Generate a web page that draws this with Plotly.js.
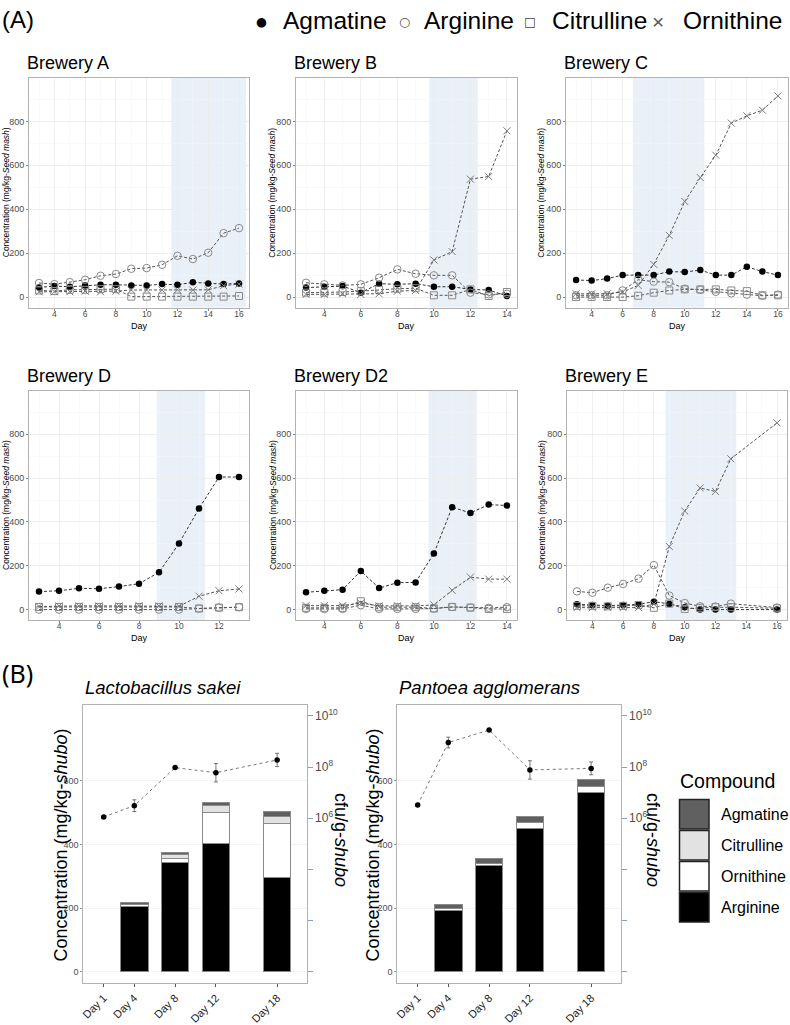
<!DOCTYPE html>
<html><head><meta charset="utf-8">
<script src="https://cdn.plot.ly/plotly-3.0.1.min.js"></script>
<style>html,body{margin:0;padding:0;background:#fff}#chart{width:790px;height:1025px}</style>
</head><body><div id="chart"></div>
<script>
// ================= DATA =================
// (A) Amino-acid concentrations (mg/kg seed mash) by brewery and day
const breweries = ['Brewery A', 'Brewery B', 'Brewery C', 'Brewery D', 'Brewery D2', 'Brewery E'];
const compounds = ['Agmatine', 'Arginine', 'Citrulline', 'Ornithine'];

const daysA = [3, 4, 5, 6, 7, 8, 9, 10, 11, 12, 13, 14, 15, 16];
const agmatineA = [44, 50, 47, 53, 56, 56, 53, 53, 59, 56, 67, 62, 59, 62];
const arginineA = [64, 59, 68, 79, 97, 105, 129, 132, 147, 188, 173, 202, 291, 314];
const citrullineA = [30, 27, 33, 33, 36, 36, 2, 2, 2, 2, 2, 2, 2, 5];
const ornithineA = [24, 24, 24, 27, 24, 27, 32, 32, 32, 33, 32, 33, 52, 59];

const daysB = [3, 4, 5, 6, 7, 8, 9, 10, 11, 12, 13, 14];
const agmatineB = [43, 47, 50, 20, 61, 58, 61, 47, 47, 35, 32, 5];
const arginineB = [65, 58, 53, 58, 88, 126, 106, 99, 99, 20, 12, 15];
const citrullineB = [20, 20, 23, 27, 33, 38, 40, 8, 8, 35, 5, 23];
const ornithineB = [12, 12, 15, 12, 15, 27, 30, 169, 207, 537, 549, 757];

const daysC = [3, 4, 5, 6, 7, 8, 9, 10, 11, 12, 13, 14, 15, 16];
const agmatineC = [78, 75, 84, 100, 100, 100, 116, 114, 123, 100, 100, 138, 116, 100];
const arginineC = [8, 8, 8, 30, 79, 70, 68, 38, 33, 24, 17, 11, 6, 11];
const citrullineC = [0, 0, 0, 0, 6, 20, 30, 35, 35, 35, 30, 27, 8, 8];
const ornithineC = [15, 15, 15, 23, 53, 149, 281, 435, 544, 646, 792, 825, 851, 916];

const daysD = [3, 4, 5, 6, 7, 8, 9, 10, 11, 12, 13];
const agmatineD = [82, 86, 97, 95, 105, 118, 170, 302, 461, 605, 605];
const arginineD = [0, 0, 0, 0, 0, 0, 0, 0, 5, 9, 11];
const citrullineD = [12, 12, 12, 12, 12, 12, 12, 12, 5, 9, 11];
const ornithineD = [14, 17, 17, 17, 17, 18, 17, 15, 61, 86, 94];

const daysD2 = [3, 4, 5, 6, 7, 8, 9, 10, 11, 12, 13, 14];
const agmatineD2 = [79, 86, 91, 176, 98, 123, 124, 256, 467, 441, 479, 475];
const arginineD2 = [3, 3, 3, 20, 3, 3, 3, 5, 12, 9, 8, 11];
const citrullineD2 = [8, 8, 8, 38, 11, 11, 11, 5, 12, 9, 3, 3];
const ornithineD2 = [18, 18, 18, 30, 17, 17, 17, 21, 88, 148, 139, 139];

const daysE = [3, 4, 5, 6, 7, 8, 9, 10, 11, 12, 13, 16];
const agmatineE = [24, 21, 18, 21, 24, 36, 26, 11, 0, 0, 0, 0];
const arginineE = [83, 77, 100, 117, 141, 203, 64, 30, 15, 14, 27, 9];
const citrullineE = [17, 17, 15, 17, 21, 8, 27, 3, 8, 11, 11, 6];
const ornithineE = [9, 9, 9, 9, 9, 25, 288, 450, 555, 539, 688, 852];

// shaded day periods per brewery
const shadeStart = [11.6, 9.75, 6.65, 8.9, 9.7, 8.75];
const shadeEnd = [16.45, 12.4, 11.26, 11.3, 12.35, 13.35];

// (B) shubo: compound concentrations (mg/kg shubo) and viable counts (log10 cfu/g shubo)
const barDays = [4, 8, 12, 18];
const cfuDays = [1, 4, 8, 12, 18];
const dayLabels = ['Day 1', 'Day 4', 'Day 8', 'Day 12', 'Day 18'];
const species = ['Lactobacillus sakei', 'Pantoea agglomerans'];

const sakeiArginine = [206, 342, 402, 295];
const sakeiOrnithine = [4, 15, 98, 171];
const sakeiCitrulline = [2, 11, 21, 23];
const sakeiAgmatine = [5, 8, 10, 13];
const sakeiLogCfu = [6.05, 6.49, 7.98, 7.78, 8.28];
const sakeiLogCfuSd = [0, 0.23, 0, 0.36, 0.26];

const pantoeaArginine = [193, 334, 450, 562];
const pantoeaOrnithine = [5, 6, 20, 21];
const pantoeaCitrulline = [0, 0, 0, 0];
const pantoeaAgmatine = [14, 16, 19, 21];
const pantoeaLogCfu = [6.52, 8.96, 9.45, 7.89, 7.95];
const pantoeaLogCfuSd = [0, 0.21, 0, 0.36, 0.25];

const cfuTickVals = [6, 8, 10];
const cfuTickText = ['10<sup>6</sup>', '10<sup>8</sup>', '10<sup>10</sup>'];

const stackOrder = ['Arginine', 'Ornithine', 'Citrulline', 'Agmatine'];
const legendOrder = ['Agmatine', 'Citrulline', 'Ornithine', 'Arginine'];
const legendGlyph = {Agmatine: '\u25CF', Arginine: '\u25CB', Citrulline: '\u25A1', Ornithine: '\u00D7'};

// ================= STYLE / LAYOUT HELPERS =================
const W = 790, H = 1025;
const fx = v => v / W;
const fy = v => 1 - v / H;
const FONT = 'Liberation Sans, Arial, sans-serif';

const lineData = [
  {days: daysA, Agmatine: agmatineA, Arginine: arginineA, Citrulline: citrullineA, Ornithine: ornithineA},
  {days: daysB, Agmatine: agmatineB, Arginine: arginineB, Citrulline: citrullineB, Ornithine: ornithineB},
  {days: daysC, Agmatine: agmatineC, Arginine: arginineC, Citrulline: citrullineC, Ornithine: ornithineC},
  {days: daysD, Agmatine: agmatineD, Arginine: arginineD, Citrulline: citrullineD, Ornithine: ornithineD},
  {days: daysD2, Agmatine: agmatineD2, Arginine: arginineD2, Citrulline: citrullineD2, Ornithine: ornithineD2},
  {days: daysE, Agmatine: agmatineE, Arginine: arginineE, Citrulline: citrullineE, Ornithine: ornithineE}
];

// panel boxes in pixels [left, right, top, bottom] and x ranges
const panelBox = [
  [29, 249, 78, 307.5], [296, 517, 78, 307.5], [566, 788, 78, 307.5],
  [29, 249, 391, 620], [296, 517, 391, 620], [567, 787, 391, 620]
];
const panelXRange = [[2.35, 16.65], [2.45, 14.55], [2.35, 16.65], [2.5, 13.5], [2.45, 14.55], [2.35, 16.65]];
const yTitleX = [5.5, 272, 541, 5.5, 272.5, 541.5];

const markerStyle = {
  Agmatine: {symbol: 'circle', size: 6.5, color: '#000000', line: {width: 0}},
  Arginine: {symbol: 'circle-open', size: 7.5, color: '#8a8a8a', line: {width: 1, color: '#8a8a8a'}},
  Citrulline: {symbol: 'square-open', size: 7, color: '#8a8a8a', line: {width: 1, color: '#8a8a8a'}},
  Ornithine: {symbol: 'x-thin-open', size: 7, color: '#7a7a7a', line: {width: 1, color: '#7a7a7a'}}
};
const lineColor = {Agmatine: '#333333', Arginine: '#555555', Citrulline: '#555555', Ornithine: '#555555'};
const compoundColor = {Agmatine: '#606060', Citrulline: '#e2e2e2', Ornithine: '#ffffff', Arginine: '#000000'};
const glyphColor = {Agmatine: '#000000', Arginine: '#444444', Citrulline: '#444444', Ornithine: '#555555'};

const traces = [];
const layout = {
  width: W, height: H,
  margin: {l: 0, r: 0, t: 0, b: 0},
  paper_bgcolor: '#ffffff', plot_bgcolor: '#ffffff',
  font: {family: FONT, color: '#000'},
  barmode: 'stack',
  showlegend: false,
  shapes: [], annotations: []
};

// ---- panel A line charts ----
lineData.forEach((d, i) => {
  const n = i + 1;
  const xa = 'x' + (n === 1 ? '' : n), ya = 'y' + (n === 1 ? '' : n);
  const xk = 'xaxis' + (n === 1 ? '' : n), yk = 'yaxis' + (n === 1 ? '' : n);
  const b = panelBox[i];
  compounds.forEach(c => {
    traces.push({
      type: 'scatter', mode: 'lines+markers', name: c, x: d.days, y: d[c],
      xaxis: xa, yaxis: ya, showlegend: false,
      line: {color: lineColor[c], width: 1, dash: '3px,2px'},
      marker: markerStyle[c], hoverinfo: 'x+y+name'
    });
  });
  layout[xk] = {
    domain: [fx(b[0]), fx(b[1])], anchor: ya, range: panelXRange[i],
    tick0: 0, dtick: 2, showgrid: true, gridcolor: '#ebebeb', gridwidth: 0.8,
    minor: {dtick: 1, tick0: 0, showgrid: true, gridcolor: '#f5f5f5', gridwidth: 0.5},
    ticks: 'outside', ticklen: 2, tickcolor: '#333', tickwidth: 0.6,
    tickfont: {size: 8.5, color: '#4d4d4d'}, ticklabelstandoff: -4,
    showline: true, linecolor: '#b3b3b3', linewidth: 1, mirror: true, zeroline: false
  };
  layout[yk] = {
    domain: [fy(b[3]), fy(b[2])], anchor: xa, range: [-47.5, 997.5],
    tickvals: [0, 200, 400, 600, 800], showgrid: true, gridcolor: '#ebebeb', gridwidth: 0.8,
    minor: {dtick: 100, tick0: 0, showgrid: true, gridcolor: '#f5f5f5', gridwidth: 0.5},
    ticks: 'outside', ticklen: 2, tickcolor: '#333', tickwidth: 0.6,
    tickfont: {size: 9, color: '#4d4d4d'},
    showline: true, linecolor: '#b3b3b3', linewidth: 1, mirror: true, zeroline: false
  };
  layout.shapes.push({
    type: 'rect', xref: xa, yref: ya + ' domain', x0: shadeStart[i], x1: shadeEnd[i], y0: 0, y1: 1,
    fillcolor: '#eaf0f8', line: {width: 0}, layer: 'below'
  });
  layout.annotations.push({
    xref: 'paper', yref: 'paper', x: fx(b[0] - 4.5), y: fy(b[2] - 15), xanchor: 'left', yanchor: 'middle',
    text: breweries[i], showarrow: false, font: {size: 18, color: '#000'}
  });
  layout.annotations.push({
    xref: 'paper', yref: 'paper', x: fx(yTitleX[i]), y: fy((b[2] + b[3]) / 2), xanchor: 'center', yanchor: 'middle',
    text: 'Concentration (mg/kg-<i>Seed mash</i>)', textangle: -90, showarrow: false,
    font: {size: 8.5, color: '#000'}
  });
  layout.annotations.push({
    xref: 'paper', yref: 'paper', x: fx((b[0] + b[1]) / 2), y: fy(b[3] + 18), xanchor: 'center', yanchor: 'middle',
    text: 'Day', showarrow: false, font: {size: 9, color: '#000'}
  });
});

// ---- shared legend for panel A (drawn as text) ----
const legSymX = [261, 405, 530, 658];
const legTextX = [281, 422, 550, 681];
compounds.forEach((c, k) => {
  layout.annotations.push({xref: 'paper', yref: 'paper', x: fx(legSymX[k]), y: fy(21), xanchor: 'center', yanchor: 'middle',
    text: legendGlyph[c], showarrow: false,
    font: {family: c === 'Ornithine' ? FONT : 'DejaVu Sans, sans-serif', size: c === 'Ornithine' ? 21 : 12.5, color: glyphColor[c]}});
  layout.annotations.push({xref: 'paper', yref: 'paper', x: fx(legTextX[k]), y: fy(20), xanchor: 'left', yanchor: 'middle',
    text: c, showarrow: false, font: {size: 24.5, color: '#000'}});
});

// ---- panel B bar + cfu charts ----
const barSets = [
  {Arginine: sakeiArginine, Ornithine: sakeiOrnithine, Citrulline: sakeiCitrulline, Agmatine: sakeiAgmatine,
   cfu: sakeiLogCfu, sd: sakeiLogCfuSd},
  {Arginine: pantoeaArginine, Ornithine: pantoeaOrnithine, Citrulline: pantoeaCitrulline, Agmatine: pantoeaAgmatine,
   cfu: pantoeaLogCfu, sd: pantoeaLogCfuSd}
];
const barBox = [[83.3, 306.7, 705, 983.3], [397.3, 620.7, 705, 983.3]];
const barYTitleX = [60.5, 372.5];
const cfuTitleX = [341, 653];

barSets.forEach((s, j) => {
  const xn = 7 + j, yn = 7 + j, y2n = 9 + j;
  const xa = 'x' + xn, ya = 'y' + yn, y2a = 'y' + y2n;
  const b = barBox[j];
  stackOrder.forEach(c => {
    traces.push({
      type: 'bar', name: c, x: barDays, y: s[c], xaxis: xa, yaxis: ya, width: 2.7,
      marker: {color: compoundColor[c], line: {color: '#8a8a8a', width: 1}},
      showlegend: false, hoverinfo: 'x+y+name'
    });
  });
  traces.push({
    type: 'scatter', mode: 'lines+markers', name: 'cfu/g-shubo', x: cfuDays, y: s.cfu,
    xaxis: xa, yaxis: y2a, showlegend: false,
    line: {color: '#777', width: 1, dash: 'dot'},
    marker: {color: '#000', size: 5.5},
    error_y: {type: 'data', array: s.sd, visible: true, color: '#555', thickness: 0.8, width: 2}
  });
  layout['xaxis' + xn] = {
    domain: [fx(b[0]), fx(b[1])], anchor: ya, range: [-1, 20.9],
    tickvals: cfuDays, ticktext: dayLabels, tickangle: -45,
    tickfont: {size: 11, color: '#222'}, ticks: 'outside', ticklen: 3, tickcolor: '#555',
    showgrid: false, showline: true, linecolor: '#b3b3b3', linewidth: 1, mirror: true, zeroline: false
  };
  layout['yaxis' + yn] = {
    domain: [fy(b[3]), fy(b[2])], anchor: xa, range: [-36.4, 838],
    tickvals: [0, 200, 400, 600], showgrid: true, gridcolor: '#f1f1f1', gridwidth: 0.8,
    tickfont: {size: 9, color: '#4d4d4d'}, ticks: 'outside', ticklen: 2, tickcolor: '#999',
    showline: true, linecolor: '#b3b3b3', linewidth: 1, mirror: true, zeroline: false
  };
  layout['yaxis' + y2n] = {
    overlaying: ya, anchor: xa, side: 'right', range: [-0.46, 10.43],
    tickvals: cfuTickVals, ticktext: cfuTickText,
    ticks: 'outside', ticklen: 5, tickcolor: '#7d9fe0', tickwidth: 1,
    minor: {tick0: 0, dtick: 2, ticks: 'outside', ticklen: 5, tickcolor: '#7d9fe0', tickwidth: 1, showgrid: false},
    tickfont: {size: 12, color: '#4d4d4d'}, showgrid: false, zeroline: false, showline: false
  };
  layout.annotations.push({
    xref: 'paper', yref: 'paper', x: fx(b[0]), y: fy(687), xanchor: 'left', yanchor: 'middle',
    text: '<i>' + species[j] + '</i>', showarrow: false, font: {size: 18.5, color: '#000'}
  });
  layout.annotations.push({
    xref: 'paper', yref: 'paper', x: fx(barYTitleX[j]), y: fy(845), xanchor: 'center', yanchor: 'middle',
    text: 'Concentration (mg/kg-<i>shubo</i>)', textangle: -90, showarrow: false, font: {size: 18, color: '#000'}
  });
  layout.annotations.push({
    xref: 'paper', yref: 'paper', x: fx(cfuTitleX[j]), y: fy(840), xanchor: 'center', yanchor: 'middle',
    text: 'cfu/g-<i>shubo</i>', textangle: 90, showarrow: false, font: {size: 18, color: '#000'}
  });
});

// ---- panel labels ----
layout.annotations.push({xref: 'paper', yref: 'paper', x: 0, y: fy(19), xanchor: 'left', yanchor: 'middle',
  text: '(A)', showarrow: false, font: {size: 24, color: '#000'}});
layout.annotations.push({xref: 'paper', yref: 'paper', x: 0, y: fy(673), xanchor: 'left', yanchor: 'middle',
  text: '(B)', showarrow: false, font: {family: 'Noto Sans, sans-serif', size: 25, color: '#000'}});

// ---- Compound legend (panel B) ----
layout.annotations.push({xref: 'paper', yref: 'paper', x: fx(678), y: fy(781), xanchor: 'left', yanchor: 'middle',
  text: 'Compound', showarrow: false, font: {size: 19.5, color: '#000'}});
legendOrder.forEach((c, k) => {
  const top = 799.5 + k * 31;
  layout.shapes.push({type: 'rect', xref: 'paper', yref: 'paper', x0: fx(679.5), x1: fx(709), y0: fy(top + 29.5), y1: fy(top),
    fillcolor: compoundColor[c], line: {color: '#222', width: 1.5}});
  layout.annotations.push({xref: 'paper', yref: 'paper', x: fx(719), y: fy(top + 15), xanchor: 'left', yanchor: 'middle',
    text: c, showarrow: false, font: {size: 16, color: '#000'}});
});

Plotly.newPlot('chart', traces, layout, {displayModeBar: false, staticPlot: true}).then(gd => {
  // drop empty axis-title placeholders that Plotly leaves in the SVG
  gd.querySelectorAll('text').forEach(t => { if (!t.textContent.trim()) t.remove(); });
});
</script></body></html>
